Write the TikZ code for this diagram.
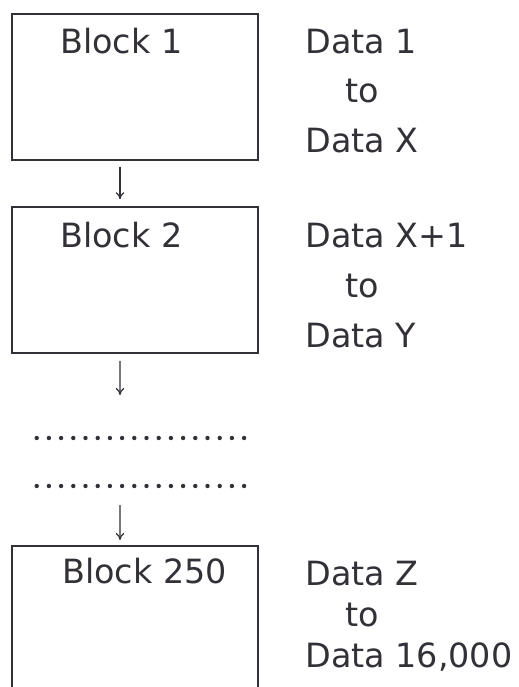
\documentclass[tikz,border=0pt]{standalone}
\usepackage{fontspec}
\setmainfont{DejaVu Sans}
\usetikzlibrary{arrows.meta,positioning}
\definecolor{inkgray}{HTML}{333038}
\tikzset{
 blockbox/.style={draw=inkgray,line width=0.9pt,minimum width=4.92cm,minimum height=2.92cm,inner sep=0pt},
 blocktext/.style={anchor=base west,inner sep=0pt,text=inkgray,font=\fontsize{19}{23}\selectfont},
 flow/.style={draw=inkgray,line width=0.7pt,-{To[length=4pt,width=5pt]}},
 gapdot/.style={fill=inkgray,draw=none}
}
\begin{document}
\begin{tikzpicture}[x=0.02cm,y=-0.02cm]
 \useasboundingbox (0,0) rectangle (519,687);
 \node[blockbox] (blk1) at (135,87) {};
 \node[blockbox] (blk2) at (135,280) {};
 \node[blockbox,minimum height=3.2cm,anchor=north] (blk3) at (135,545) {};
 \node[blocktext] (lab1) at (60,53) {Block 1};
 \node[blocktext] (lab2) at (60,247) {Block 2};
 \node[blocktext] (lab3) at (62,583) {Block 250};
 \node[blocktext] (fromA) at (305,53) {Data 1};
 \node[blocktext] (toA) at (345,102) {to};
 \node[blocktext] (endA) at (305,152) {Data X};
 \node[blocktext] (fromB) at (305,247) {Data X+1};
 \node[blocktext] (toB) at (345,297) {to};
 \node[blocktext] (endB) at (305,347) {Data Y};
 \node[blocktext] (fromC) at (305,585) {Data Z};
 \node[blocktext] (toC) at (345,626) {to};
 \node[blocktext] (endC) at (305,667) {Data 16,000};
 \coordinate (gapin) at (120,395);
 \coordinate (gapout) at (120,505);
 \draw[flow] ([xshift=-0.3cm,yshift=-0.12cm]blk1.south) -- ([xshift=-0.3cm,yshift=0.14cm]blk2.north);
 \draw[flow] ([xshift=-0.3cm,yshift=-0.14cm]blk2.south) -- (gapin);
 \draw[flow] (gapout) -- ([xshift=-0.3cm,yshift=0.1cm]blk3.north);
 \foreach \i in {0,...,17}{
  \fill[gapdot] (36.7+12.2*\i,438) circle (2.2);
  \fill[gapdot] (36.7+12.2*\i,486) circle (2.2);
 }
\end{tikzpicture}
\end{document}
